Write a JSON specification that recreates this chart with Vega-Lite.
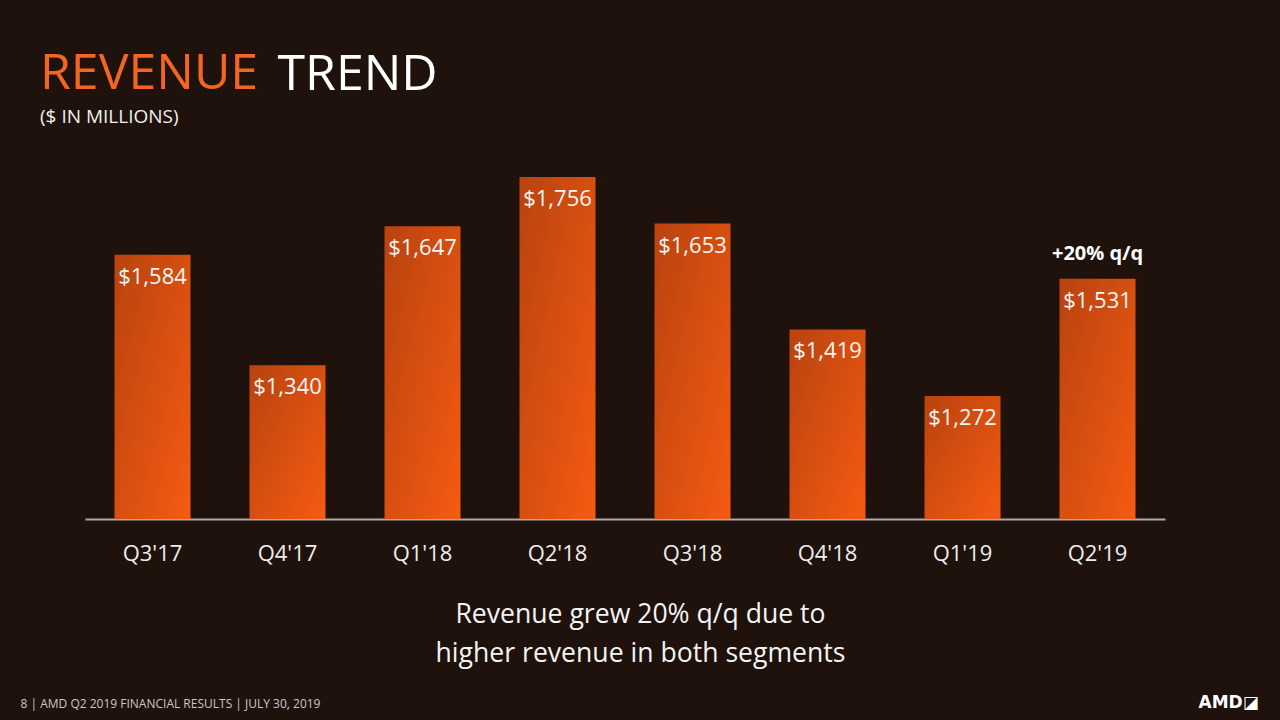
{
  "$schema": "https://vega.github.io/schema/vega-lite/v6.json",
  "width": 1080,
  "height": 362,
  "autosize": {"type": "none"},
  "padding": {"left": 85, "top": 157, "right": 115, "bottom": 201},
  "background": "#1f110c",
  "config": {
    "view": {"stroke": null},
    "font": "Open Sans",
    "axis": {"grid": false}
  },
  "title": {
    "text": "REVENUE",
    "subtitle": "($ IN MILLIONS)",
    "anchor": "start",
    "frame": "group",
    "dx": -45,
    "dy": 108,
    "offset": 30,
    "color": "#f26522",
    "font": "Open Sans",
    "fontSize": 50,
    "fontWeight": "normal",
    "subtitleColor": "#f0f0f0",
    "subtitleFont": "Open Sans",
    "subtitleFontSize": 19,
    "subtitlePadding": 9
  },
  "data": {
    "values": [
      {"quarter": "Q3'17", "revenue": 1584},
      {"quarter": "Q4'17", "revenue": 1340},
      {"quarter": "Q1'18", "revenue": 1647},
      {"quarter": "Q2'18", "revenue": 1756},
      {"quarter": "Q3'18", "revenue": 1653},
      {"quarter": "Q4'18", "revenue": 1419},
      {"quarter": "Q1'19", "revenue": 1272},
      {"quarter": "Q2'19", "revenue": 1531}
    ]
  },
  "resolve": {"axis": {"x": "independent", "y": "independent"}},
  "layer": [
    {
      "mark": {
        "type": "bar",
        "color": {
          "gradient": "linear",
          "x1": 0, "y1": 0, "x2": 1, "y2": 1,
          "stops": [
            {"offset": 0, "color": "#b9430f"},
            {"offset": 1, "color": "#f55b12"}
          ]
        }
      },
      "encoding": {
        "x": {
          "field": "quarter",
          "type": "nominal",
          "sort": null,
          "scale": {"paddingInner": 0.437, "paddingOuter": 0.2185},
          "axis": {
            "orient": "bottom",
            "labelAngle": 0,
            "labelFontSize": 22,
            "labelColor": "#eeeeee",
            "labelFont": "Open Sans",
            "labelPadding": 24,
            "ticks": false,
            "tickSize": 0,
            "domain": true,
            "domainColor": "#aaaaaa",
            "domainWidth": 2,
            "title": ["Revenue grew 20% q/q due to", "higher revenue in both segments"],
            "titleFont": "Open Sans",
            "titleFontSize": 26.6,
            "titleFontWeight": "normal",
            "titleColor": "#f4f4f4",
            "titleAlign": "center",
            "titleBaseline": "alphabetic",
            "titleAnchor": null,
            "titleX": 555,
            "titleY": 103,
            "titleLineHeight": 39
          }
        },
        "y": {
          "field": "revenue",
          "type": "quantitative",
          "scale": {"domain": [1000, 1800], "zero": false, "nice": false},
          "axis": {
            "orient": "left",
            "labels": false,
            "ticks": false,
            "domain": false,
            "title": "TREND",
            "titleFont": "Open Sans",
            "titleFontSize": 50,
            "titleFontWeight": "normal",
            "titleColor": "#ffffff",
            "titleAngle": 0,
            "titleAlign": "left",
            "titleBaseline": "alphabetic",
            "titleX": 192,
            "titleY": -68
          }
        },
        "y2": {"datum": 1000}
      }
    },
    {
      "mark": {"type": "text", "baseline": "alphabetic", "dy": 29, "fontSize": 22, "color": "#f6f6f6", "font": "Open Sans"},
      "encoding": {
        "x": {"field": "quarter", "type": "nominal", "sort": null, "axis": null},
        "y": {
          "field": "revenue",
          "type": "quantitative",
          "axis": {
            "orient": "right",
            "labels": false,
            "ticks": false,
            "domain": false,
            "title": "8  |  AMD Q2 2019 FINANCIAL RESULTS | JULY 30, 2019",
            "titleFont": "Open Sans",
            "titleFontSize": 12,
            "titleFontWeight": "normal",
            "titleColor": "#c8c8c8",
            "titleAngle": 0,
            "titleAlign": "left",
            "titleBaseline": "alphabetic",
            "titleX": -1145,
            "titleY": 550
          }
        },
        "text": {"field": "revenue", "type": "quantitative", "format": "$,.0f"}
      }
    },
    {
      "data": {"values": [{"quarter": "Q2'19", "revenue": 1531, "note": "+20% q/q"}]},
      "mark": {"type": "text", "baseline": "alphabetic", "dy": -19, "fontSize": 20, "fontWeight": "bold", "color": "#ffffff", "font": "Open Sans"},
      "encoding": {
        "x": {
          "field": "quarter",
          "type": "nominal",
          "sort": null,
          "axis": {
            "orient": "top",
            "labels": false,
            "ticks": false,
            "domain": false,
            "title": "AMD◪",
            "titleFont": "DejaVu Sans",
            "titleFontSize": 17,
            "titleFontWeight": "bold",
            "titleColor": "#ffffff",
            "titleAlign": "left",
            "titleBaseline": "alphabetic",
            "titleAnchor": null,
            "titleX": 1113,
            "titleY": 550
          }
        },
        "y": {"field": "revenue", "type": "quantitative", "axis": null},
        "text": {"field": "note"}
      }
    }
  ]
}
